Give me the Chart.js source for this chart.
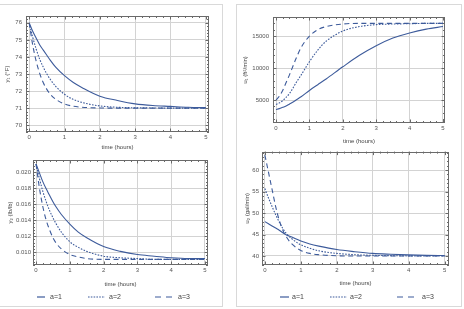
<!DOCTYPE html>
<html><head><meta charset="utf-8">
<script src="https://cdn.jsdelivr.net/npm/chart.js@4.4.1/dist/chart.umd.min.js"></script>
<style>
html,body{margin:0;padding:0;background:#fff;width:464px;height:309px;overflow:hidden;font-family:"Liberation Sans",Arial,sans-serif;}
.panel{position:absolute;border:1px solid #d9d9d9;box-sizing:border-box;}
.box{position:absolute;}
.lg{position:absolute;font-size:7px;color:#444;line-height:8px;white-space:nowrap;}
svg{position:absolute;overflow:visible;}
</style></head><body>
<div class="panel" style="left:-1px;top:4px;width:224px;height:303px"></div>
<div class="panel" style="left:236px;top:4px;width:226px;height:303px"></div>
<div class="box" style="left:0;top:6px;width:214px;height:148px"><canvas id="c1"></canvas></div>
<div class="box" style="left:0;top:152px;width:214px;height:138px"><canvas id="c2"></canvas></div>
<div class="box" style="left:237px;top:6px;width:214px;height:142px"><canvas id="c3"></canvas></div>
<div class="box" style="left:237px;top:145px;width:216px;height:144px"><canvas id="c4"></canvas></div>
<div id="legends"></div>
<script>
// ---- data ----
const seriesLabels = ['a=1', 'a=2', 'a=3'];
const timeHours = [0, 0.1, 0.2, 0.3, 0.4, 0.5, 0.6, 0.75, 1, 1.25, 1.5, 2, 2.5, 3, 3.5, 4, 4.5, 5];
const xTicks = [0, 1, 2, 3, 4, 5];

const y1_a1 = [76.0, 75.5, 75.1, 74.7, 74.4, 74.1, 73.8, 73.4, 72.9, 72.5, 72.2, 71.7, 71.45, 71.25, 71.15, 71.1, 71.05, 71.03];
const y1_a2 = [76.0, 75.15, 74.45, 73.85, 73.4, 73.0, 72.68, 72.28, 71.81, 71.51, 71.33, 71.13, 71.05, 71.02, 71.01, 71.0, 71.0, 71.0];
const y1_a3 = [76.0, 74.7, 73.73, 73.02, 72.49, 72.1, 71.81, 71.52, 71.24, 71.11, 71.05, 71.01, 71.0, 71.0, 71.0, 71.0, 71.0, 71.0];
const y1Ticks = [70, 71, 72, 73, 74, 75, 76];

const y2_a1 = [0.0210, 0.0199, 0.0188, 0.0179, 0.0171, 0.0163, 0.0156, 0.0147, 0.0135, 0.0125, 0.0118, 0.0107, 0.0101, 0.0097, 0.0095, 0.0093, 0.0092, 0.0092];
const y2_a2 = [0.0210, 0.0192, 0.0176, 0.0163, 0.0152, 0.0143, 0.0135, 0.0125, 0.0113, 0.0106, 0.0101, 0.0095, 0.0093, 0.0092, 0.0091, 0.0091, 0.0091, 0.0091];
const y2_a3 = [0.0210, 0.0180, 0.0157, 0.0140, 0.0128, 0.0118, 0.0111, 0.0104, 0.0097, 0.0094, 0.0092, 0.0091, 0.0091, 0.0091, 0.0091, 0.0091, 0.0091, 0.0091];
const y2Ticks = [0.010, 0.012, 0.014, 0.016, 0.018, 0.020];

const u1_a1 = [3500, 3650, 3850, 4050, 4350, 4650, 5000, 5500, 6500, 7400, 8300, 10200, 12000, 13500, 14700, 15500, 16100, 16500];
const u1_a2 = [4300, 4550, 4900, 5400, 6000, 6800, 7700, 8900, 11000, 12800, 14200, 15800, 16500, 16800, 16900, 16950, 17000, 17000];
const u1_a3 = [5000, 5600, 6500, 7700, 8900, 10200, 11500, 13200, 15000, 16000, 16500, 16900, 17000, 17000, 17000, 17000, 17000, 17000];
const u1Ticks = [5000, 10000, 15000];

const u2_a1 = [48.0, 47.5, 47.0, 46.5, 46.0, 45.4, 44.9, 44.4, 43.5, 42.8, 42.3, 41.5, 41.0, 40.6, 40.4, 40.25, 40.15, 40.1];
const u2_a2 = [55.7, 53.5, 51.5, 49.6, 47.9, 46.4, 45.2, 44.0, 42.6, 41.8, 41.2, 40.6, 40.3, 40.15, 40.08, 40.03, 40.0, 40.0];
const u2_a3 = [63.5, 59.5, 55.5, 51.5, 48.3, 46.0, 44.4, 42.8, 41.3, 40.6, 40.3, 40.05, 40.0, 40.0, 40.0, 40.0, 40.0, 40.0];
const u2Ticks = [40, 45, 50, 55, 60];

// ---- styles ----
const lineColor = '#3d5b9b';
const dashes = [[], [1.6, 1.4], [5, 3.5]];
const fontFam = '"Liberation Sans", Arial, sans-serif';

const frameTicks = {
  id: 'frameTicks',
  afterDatasetsDraw(chart) {
    const {ctx, chartArea: a} = chart;
    ctx.save();
    ctx.strokeStyle = '#6a6a6a';
    ctx.lineWidth = 1;
    ctx.strokeRect(Math.round(a.left) + 0.5, Math.round(a.top) + 0.5, Math.round(a.right - a.left) - 1, Math.round(a.bottom - a.top) - 1);
    const sides = (scale, horiz) => {
      const majors = scale.ticks.map(t => t.value);
      const step = majors[1] - majors[0];
      const minor = step / 5;
      const k0 = Math.ceil((scale.min - majors[0]) / minor - 1e-6);
      const k1 = Math.floor((scale.max - majors[0]) / minor + 1e-6);
      ctx.beginPath();
      for (let k = k0; k <= k1; k++) {
        const v = majors[0] + k * minor;
        const isMajor = Math.abs(k % 5) === 0;
        const len = isMajor ? 3.5 : 2;
        const p = Math.round(scale.getPixelForValue(v)) + 0.5;
        if (horiz) {
          ctx.moveTo(p, a.bottom); ctx.lineTo(p, a.bottom - len);
          ctx.moveTo(p, a.top); ctx.lineTo(p, a.top + len);
        } else {
          ctx.moveTo(a.left, p); ctx.lineTo(a.left + len, p);
          ctx.moveTo(a.right, p); ctx.lineTo(a.right - len, p);
        }
      }
      ctx.stroke();
    };
    sides(chart.scales.x, true);
    sides(chart.scales.y, false);
    ctx.restore();
  }
};

function makeChart(id, c) {
  return new Chart(document.getElementById(id), {
    type: 'line',
    data: {
      datasets: c.series.map((vals, i) => ({
        label: seriesLabels[i],
        data: timeHours.map((t, j) => ({x: t, y: vals[j]})),
        borderColor: lineColor,
        borderWidth: 1.1,
        borderDash: dashes[i],
        pointRadius: 0,
        cubicInterpolationMode: 'monotone',
        fill: false
      })).reverse()
    },
    options: {
      responsive: true, maintainAspectRatio: false, animation: false,
      layout: {padding: c.pad},
      plugins: {legend: {display: false}, tooltip: {enabled: false}},
      scales: {
        x: {
          type: 'linear', min: c.xmin, max: c.xmax,
          afterBuildTicks: s => { s.ticks = xTicks.map(v => ({value: v})); },
          afterFit: s => { s.height = c.xh; },
          grid: {color: '#d3d3d3', drawTicks: false},
          border: {display: false},
          ticks: {padding: 2, font: {size: 6, family: fontFam}, color: '#555', maxRotation: 0, callback: v => String(v)},
          title: {display: true, text: 'time (hours)', font: {size: 6, family: fontFam}, color: '#444', padding: {top: 0, bottom: c.xtp}}
        },
        y: {
          type: 'linear', min: c.ymin, max: c.ymax,
          afterBuildTicks: s => { s.ticks = c.yticks.map(v => ({value: v})); },
          afterFit: s => { s.width = c.yw; },
          grid: {color: '#d3d3d3', drawTicks: false},
          border: {display: false},
          ticks: {padding: c.ytp, font: {size: 6, family: fontFam}, color: '#555', callback: c.fmt},
          title: {display: true, text: c.ytitle, font: {size: 6, family: fontFam}, color: '#444', padding: {top: c.ytitlePad, bottom: 0}}
        }
      }
    },
    plugins: [frameTicks]
  });
}

makeChart('c1', {series: [y1_a1, y1_a2, y1_a3], yticks: y1Ticks, ymin: 69.6, ymax: 76.4, xmin: -0.09, xmax: 5.09,
  pad: {left: 0, top: 10, right: 5, bottom: 0}, yw: 26, xh: 22, xtp: 3.4, ytp: 4, ytitlePad: 3.4,
  ytitle: 'y\u2081 (\u00B0F)', fmt: v => String(v)});
makeChart('c2', {series: [y2_a1, y2_a2, y2_a3], yticks: y2Ticks, ymin: 0.0084, ymax: 0.0215, xmin: -0.09, xmax: 5.09,
  pad: {left: 0, top: 8, right: 6, bottom: 0}, yw: 33, xh: 25, xtp: 2.4, ytp: 2, ytitlePad: 6.4,
  ytitle: 'y\u2082 (lb/lb)', fmt: v => v.toFixed(3)});
makeChart('c3', {series: [u1_a1, u1_a2, u1_a3], yticks: u1Ticks, ymin: 1400, ymax: 18000, xmin: -0.09, xmax: 5.06,
  pad: {left: 0, top: 11, right: 6, bottom: 0}, yw: 36, xh: 25, xtp: 3.4, ytp: 4, ytitlePad: 4.4,
  ytitle: 'u\u2081 (ft\u00B2/min)', fmt: v => String(v)});
makeChart('c4', {series: [u2_a1, u2_a2, u2_a3], yticks: u2Ticks, ymin: 37.9, ymax: 64.3, xmin: -0.08, xmax: 5.12,
  pad: {left: 0, top: 5, right: 4, bottom: 0}, yw: 25, xh: 24, xtp: 2.4, ytp: 3, ytitlePad: 6.4,
  ytitle: 'u\u2082 (gal/min)', fmt: v => String(v)});

// ---- legends (HTML) ----
const legendLayouts = [
  {y: 297, items: [[37, 45, 50], [88, 105, 109], [155, 172, 178]]},
  {y: 297, items: [[280, 289, 292], [330, 347, 350], [397, 414, 422]]}
];
const lgRoot = document.getElementById('legends');
legendLayouts.forEach(L => {
  L.items.forEach((it, i) => {
    const [x0, x1, tx] = it;
    const svg = document.createElementNS('http://www.w3.org/2000/svg', 'svg');
    svg.setAttribute('width', x1 - x0); svg.setAttribute('height', 4);
    svg.style.left = x0 + 'px'; svg.style.top = (L.y - 2) + 'px';
    const ln = document.createElementNS('http://www.w3.org/2000/svg', 'line');
    ln.setAttribute('x1', 0); ln.setAttribute('x2', x1 - x0); ln.setAttribute('y1', 2); ln.setAttribute('y2', 2);
    ln.setAttribute('stroke', lineColor); ln.setAttribute('stroke-width', 1.2);
    if (dashes[i].length) ln.setAttribute('stroke-dasharray', i === 1 ? '1.6 1.2' : '6 5');
    svg.appendChild(ln);
    lgRoot.appendChild(svg);
    const sp = document.createElement('div');
    sp.className = 'lg';
    sp.textContent = seriesLabels[i];
    sp.style.left = tx + 'px'; sp.style.top = (L.y - 4) + 'px';
    lgRoot.appendChild(sp);
  });
});
</script>
</body></html>
